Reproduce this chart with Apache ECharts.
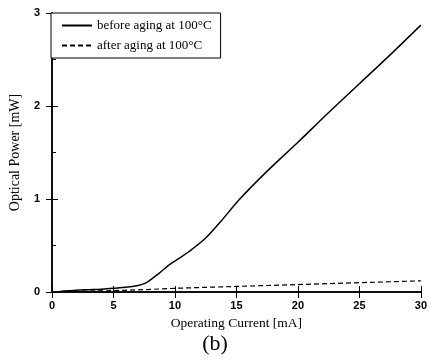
<!DOCTYPE html>
<html lang="en">
<head>
  <meta charset="UTF-8">
  <title>Optical Power vs Operating Current</title>
  <style>
    body { margin: 0; padding: 0; background: #fff; }
    #chart { width: 430px; height: 364px; }
  </style>
  <script src="https://cdn.jsdelivr.net/npm/echarts@6/dist/echarts.min.js"></script>
</head>
<body>
  <div id="chart"></div>
  <script>
    // Data (current in mA, power in mW)
    const beforeCurrent = [0.5, 1, 2, 3, 4, 5, 6, 7, 7.5, 7.9, 8.3, 8.7, 9.5, 10.3, 11.1, 12.5, 13.8, 15.2, 17.5, 20, 22.5, 25, 27.5, 30];
    const beforePower   = [0, 0.01, 0.02, 0.025, 0.03, 0.04, 0.05, 0.07, 0.09, 0.12, 0.16, 0.2, 0.29, 0.36, 0.43, 0.58, 0.77, 0.99, 1.3, 1.61, 1.93, 2.24, 2.55, 2.87];
    const afterCurrent  = [0.5, 1, 3, 5, 7.5, 10, 12.5, 15, 17.5, 20, 22.5, 25, 27.5, 30];
    const afterPower    = [0, 0.005, 0.01, 0.015, 0.025, 0.04, 0.05, 0.06, 0.07, 0.08, 0.09, 0.1, 0.11, 0.12];

    const seriesNames = ['before aging at 100\u00b0C', 'after aging at 100\u00b0C'];
    const xTicks = [0, 30, 5];   // min, max, step
    const yTicks = [0, 3, 1];

    const pair = (xs, ys) => xs.map((x, i) => [x, ys[i]]);

    const tickLabel = { fontFamily: 'Liberation Sans', fontWeight: 'bold', fontSize: 11, color: '#000' };
    const nameStyle = { fontFamily: 'Liberation Serif', fontSize: 13.5, color: '#000' };
    const axisBase = {
      type: 'value',
      axisLine: { show: true, lineStyle: { color: '#000', width: 1.5 } },
      axisTick: { show: true, inside: true, length: 6, lineStyle: { color: '#000' } },
      splitLine: { show: false }
    };

    let chart = echarts.init(document.getElementById('chart'));
    chart.setOption({
      animation: false,
      grid: { left: 51, right: 6, top: 13, bottom: 72 },
      legend: {
        data: seriesNames,
        orient: 'vertical',
        left: 51,
        top: 13,
        itemWidth: 30,
        itemHeight: 10,
        itemGap: 7,
        padding: [6, 9, 6, 10],
        borderColor: '#000',
        borderWidth: 1,
        backgroundColor: '#fff',
        itemStyle: { opacity: 0, borderWidth: 0 },
        textStyle: { fontFamily: 'Liberation Serif', fontSize: 13, color: '#000' }
      },
      xAxis: [
        Object.assign({}, axisBase, {
          min: xTicks[0], max: xTicks[1], interval: xTicks[2],
          position: 'bottom',
          axisLabel: tickLabel,
          name: 'Operating Current [mA]',
          nameLocation: 'middle',
          nameGap: 24,
          nameTextStyle: nameStyle
        }),
        Object.assign({}, axisBase, {
          min: xTicks[0], max: xTicks[1], interval: xTicks[2],
          position: 'top',
          axisLabel: { show: false }
        })
      ],
      yAxis: [
        Object.assign({}, axisBase, {
          min: yTicks[0], max: yTicks[1], interval: yTicks[2],
          position: 'left',
          minorTick: { show: true, splitNumber: 2, length: 4, lineStyle: { color: '#000' } },
          axisLabel: Object.assign({ margin: 12 }, tickLabel),
          name: 'Optical Power [mW]',
          nameLocation: 'middle',
          nameGap: 30,
          nameTextStyle: Object.assign({}, nameStyle, { fontSize: 14 })
        }),
        Object.assign({}, axisBase, {
          min: yTicks[0], max: yTicks[1], interval: yTicks[2],
          position: 'right',
          axisLabel: { show: false }
        })
      ],
      series: [
        {
          name: seriesNames[0],
          type: 'line',
          data: pair(beforeCurrent, beforePower),
          symbol: 'none',
          smooth: 0.3,
          lineStyle: { color: '#000', width: 1.5, type: 'solid' },
          itemStyle: { color: '#000' }
        },
        {
          name: seriesNames[1],
          type: 'line',
          data: pair(afterCurrent, afterPower),
          symbol: 'none',
          lineStyle: { color: '#000', width: 1.2, type: [5, 3] },
          itemStyle: { color: '#000' }
        }
      ],
      graphic: [{
        type: 'text',
        left: 'center',
        top: 333,
        style: { text: '(b)', font: '22px "Liberation Serif", serif', fill: '#000' }
      }]
    });
  </script>
</body>
</html>
